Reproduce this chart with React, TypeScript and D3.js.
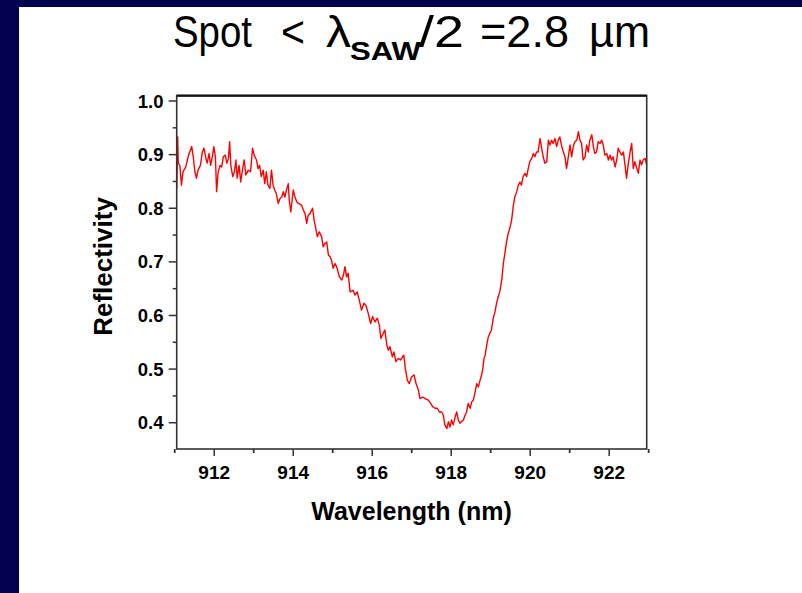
import React from "react";
import * as d3 from "d3";

const wavelength = [
  911.05, 911.075, 911.09, 911.13, 911.17, 911.21, 911.28, 911.34, 911.38, 911.43, 911.47, 911.51, 911.55, 911.59, 911.65, 911.7, 911.74, 911.79, 911.82, 911.87, 911.91, 911.96, 911.99,
  912.03, 912.06, 912.1, 912.15, 912.19, 912.23, 912.28, 912.32, 912.36, 912.39, 912.42, 912.47, 912.51, 912.55, 912.58, 912.63, 912.67, 912.72, 912.76, 912.8, 912.86, 912.92, 912.97,
  913.01, 913.07, 913.11, 913.15, 913.19, 913.24, 913.28, 913.32, 913.36, 913.41, 913.45, 913.49, 913.53, 913.57, 913.62, 913.665, 913.71, 913.75, 913.79, 913.83, 913.875, 913.9, 913.94,
  914.0, 914.045, 914.09, 914.13, 914.21, 914.255, 914.3, 914.34, 914.38, 914.425, 914.49, 914.53, 914.58, 914.61, 914.66, 914.72, 914.76, 914.8, 914.85, 914.89, 914.93, 914.97,
  915.01, 915.06, 915.1, 915.17, 915.23, 915.27, 915.31, 915.35, 915.39, 915.44, 915.52, 915.56, 915.62, 915.67, 915.73, 915.79, 915.84, 915.9, 915.96,
  916.01, 916.07, 916.13, 916.18, 916.22, 916.28, 916.32, 916.37, 916.41, 916.45, 916.51, 916.55, 916.6, 916.66, 916.72, 916.77, 916.8, 916.84, 916.89, 916.94,
  917.0, 917.06, 917.11, 917.17, 917.21, 917.28, 917.34, 917.42, 917.48, 917.53, 917.59, 917.65, 917.7, 917.76, 917.8, 917.84, 917.89, 917.93, 917.97,
  918.01, 918.05, 918.1, 918.14, 918.18, 918.22, 918.26, 918.31, 918.35, 918.39, 918.43, 918.48, 918.52, 918.56, 918.6, 918.645, 918.69, 918.73, 918.77, 918.8, 918.83, 918.86, 918.9, 918.94, 918.98,
  919.02, 919.065, 919.11, 919.15, 919.19, 919.23, 919.28, 919.32, 919.36, 919.4, 919.445, 919.49, 919.53, 919.57, 919.61, 919.66, 919.7, 919.74, 919.78, 919.82, 919.87, 919.91, 919.95, 919.99,
  920.04, 920.08, 920.12, 920.16, 920.2, 920.25, 920.29, 920.33, 920.37, 920.42, 920.46, 920.5, 920.54, 920.58, 920.63, 920.67, 920.71, 920.75, 920.79, 920.84, 920.88, 920.92, 920.96,
  921.01, 921.05, 921.09, 921.13, 921.18, 921.22, 921.26, 921.3, 921.34, 921.39, 921.43, 921.47, 921.51, 921.56, 921.6, 921.64, 921.68, 921.72, 921.77, 921.81, 921.85, 921.89, 921.94, 921.98,
  922.02, 922.06, 922.1, 922.15, 922.19, 922.23, 922.27, 922.32, 922.36, 922.4, 922.44, 922.48, 922.53, 922.57, 922.61, 922.65, 922.7, 922.74, 922.78, 922.82, 922.86, 922.91, 922.95,
];

const reflectivity = [
  0.837, 0.933, 0.884, 0.88, 0.843, 0.868, 0.877, 0.896, 0.905, 0.915, 0.896, 0.868, 0.856, 0.871, 0.88, 0.905, 0.912, 0.893, 0.884, 0.902, 0.88, 0.899, 0.915,
  0.896, 0.831, 0.868, 0.88, 0.877, 0.896, 0.899, 0.884, 0.893, 0.924, 0.88, 0.859, 0.868, 0.89, 0.856, 0.88, 0.849, 0.874, 0.89, 0.862, 0.871, 0.868, 0.912,
  0.899, 0.89, 0.874, 0.88, 0.859, 0.871, 0.846, 0.868, 0.843, 0.837, 0.871, 0.843, 0.834, 0.828, 0.809, 0.818, 0.821, 0.831, 0.821, 0.834, 0.846, 0.815, 0.793,
  0.834, 0.821, 0.812, 0.809, 0.806, 0.797, 0.79, 0.772, 0.787, 0.79, 0.8, 0.778, 0.759, 0.747, 0.756, 0.747, 0.728, 0.734, 0.737, 0.713, 0.71, 0.703,
  0.688, 0.697, 0.691, 0.672, 0.666, 0.675, 0.691, 0.672, 0.679, 0.644, 0.647, 0.638, 0.644, 0.629, 0.61, 0.623, 0.619, 0.604, 0.585,
  0.598, 0.588, 0.595, 0.582, 0.557, 0.567, 0.573, 0.545, 0.535, 0.542, 0.523, 0.532, 0.514, 0.52, 0.517, 0.523, 0.526, 0.501, 0.479, 0.473,
  0.486, 0.489, 0.473, 0.461, 0.445, 0.448, 0.445, 0.442, 0.436, 0.43, 0.427, 0.427, 0.42, 0.42, 0.414, 0.396, 0.389, 0.402, 0.392,
  0.405, 0.396, 0.411, 0.42, 0.405, 0.399, 0.402, 0.405, 0.414, 0.42, 0.436, 0.427, 0.439, 0.442, 0.455, 0.473, 0.467, 0.479, 0.489, 0.501, 0.52, 0.526, 0.545, 0.56, 0.567,
  0.573, 0.595, 0.607, 0.623, 0.635, 0.644, 0.666, 0.697, 0.716, 0.737, 0.753, 0.765, 0.778, 0.803, 0.821, 0.831, 0.843, 0.849, 0.843, 0.859, 0.865, 0.859, 0.874, 0.887,
  0.893, 0.902, 0.896, 0.905, 0.905, 0.93, 0.912, 0.896, 0.884, 0.887, 0.927, 0.918, 0.927, 0.921, 0.93, 0.915, 0.927, 0.933, 0.918, 0.905, 0.896, 0.874, 0.893,
  0.918, 0.896, 0.915, 0.924, 0.927, 0.943, 0.927, 0.921, 0.89, 0.896, 0.918, 0.905, 0.927, 0.937, 0.915, 0.902, 0.905, 0.924, 0.921, 0.927, 0.918, 0.899, 0.902, 0.89,
  0.899, 0.89, 0.896, 0.877, 0.89, 0.912, 0.905, 0.899, 0.905, 0.881, 0.856, 0.881, 0.905, 0.921, 0.874, 0.887, 0.874, 0.865, 0.89, 0.881, 0.89, 0.893, 0.881,
];

const xMajorTicks = [912, 914, 916, 918, 920, 922];
const xMinorTicks = [911, 913, 915, 917, 919, 921, 923];
const yMajorTicks = [0.4, 0.5, 0.6, 0.7, 0.8, 0.9, 1.0];
const yMinorTicks = [0.45, 0.55, 0.65, 0.75, 0.85, 0.95];

const W = 802;
const H = 593;
const NAVY = "#02024f";
const AXIS = "#333";
const FONT = "'Liberation Sans', Arial, Helvetica, sans-serif";

export default function App() {
  const left = 176.7, right = 646.7, top = 95.7, bottom = 449;
  const x = d3.scaleLinear().domain([911.05, 922.95]).range([left, right]);
  const y = d3.scaleLinear().domain([0.351, 1.0099]).range([bottom, top]);
  const pts = wavelength.map((w, i) => [w, reflectivity[i]] as [number, number]);
  const line = d3.line<[number, number]>().x((d) => x(d[0])).y((d) => y(d[1]));

  return (
    <svg width={W} height={H} style={{ position: "fixed", left: 0, top: 0, display: "block", background: "#fff" }} fontFamily={FONT}>
      <rect x={0} y={0} width={W} height={H} fill="#fff" />
      <rect x={0} y={0} width={W} height={7} fill={NAVY} />
      <rect x={0} y={0} width={19} height={H} fill={NAVY} />

      {/* Title */}
      <g fill="#000" fontSize={44}>
        <text x={173} y={47} textLength={79} lengthAdjust="spacingAndGlyphs">Spot</text>
        <text x={281} y={47} textLength={24} lengthAdjust="spacingAndGlyphs">{"<"}</text>
        <text x={326} y={47} textLength={25} lengthAdjust="spacingAndGlyphs">λ</text>
        <text x={350} y={60} fontSize={26} fontWeight="bold" textLength={71} lengthAdjust="spacingAndGlyphs">SAW</text>
        <text x={419} y={47} textLength={45} lengthAdjust="spacingAndGlyphs">/2</text>
        <text x={480} y={47} textLength={89} lengthAdjust="spacingAndGlyphs">=2.8</text>
        <text x={589} y={47} textLength={61} lengthAdjust="spacingAndGlyphs">µm</text>
      </g>

      {/* Data */}
      <path d={line(pts) || ""} fill="none" stroke="#ff0000" strokeWidth={1.4} strokeLinejoin="round" />

      {/* Frame */}
      <rect x={left} y={top} width={right - left} height={bottom - top} fill="none" stroke={AXIS} strokeWidth={1.6} />
      <line x1={left} x2={right} y1={top} y2={top} stroke="#111" strokeWidth={2.2} />

      {/* X ticks */}
      {xMajorTicks.map((t) => (
        <g key={"xM" + t}>
          <line x1={x(t)} x2={x(t)} y1={bottom} y2={bottom + 7} stroke={AXIS} strokeWidth={1.5} />
          <text x={x(t)} y={479} textAnchor="middle" fontSize={19} fontWeight="bold">{t}</text>
        </g>
      ))}
      {xMinorTicks.map((t) => (
        <line key={"xm" + t} x1={x(t)} x2={x(t)} y1={bottom} y2={bottom + 4} stroke={AXIS} strokeWidth={1.8} />
      ))}

      {/* Y ticks */}
      {yMajorTicks.map((t) => (
        <g key={"yM" + t}>
          <line x1={left - 8} x2={left} y1={y(t)} y2={y(t)} stroke={AXIS} strokeWidth={1.5} />
          <text x={163.5} y={y(t) + 6.5} textAnchor="end" fontSize={18.5} fontWeight="bold">{t.toFixed(1)}</text>
        </g>
      ))}
      {yMinorTicks.map((t) => (
        <line key={"ym" + t} x1={left - 4} x2={left} y1={y(t)} y2={y(t)} stroke={AXIS} strokeWidth={1.5} />
      ))}

      {/* Axis titles */}
      <text x={411.5} y={520} textAnchor="middle" fontSize={25} fontWeight="bold">Wavelength (nm)</text>
      <text transform="translate(111.5,266.5) rotate(-90)" textAnchor="middle" fontSize={26} fontWeight="bold">Reflectivity</text>
    </svg>
  );
}
